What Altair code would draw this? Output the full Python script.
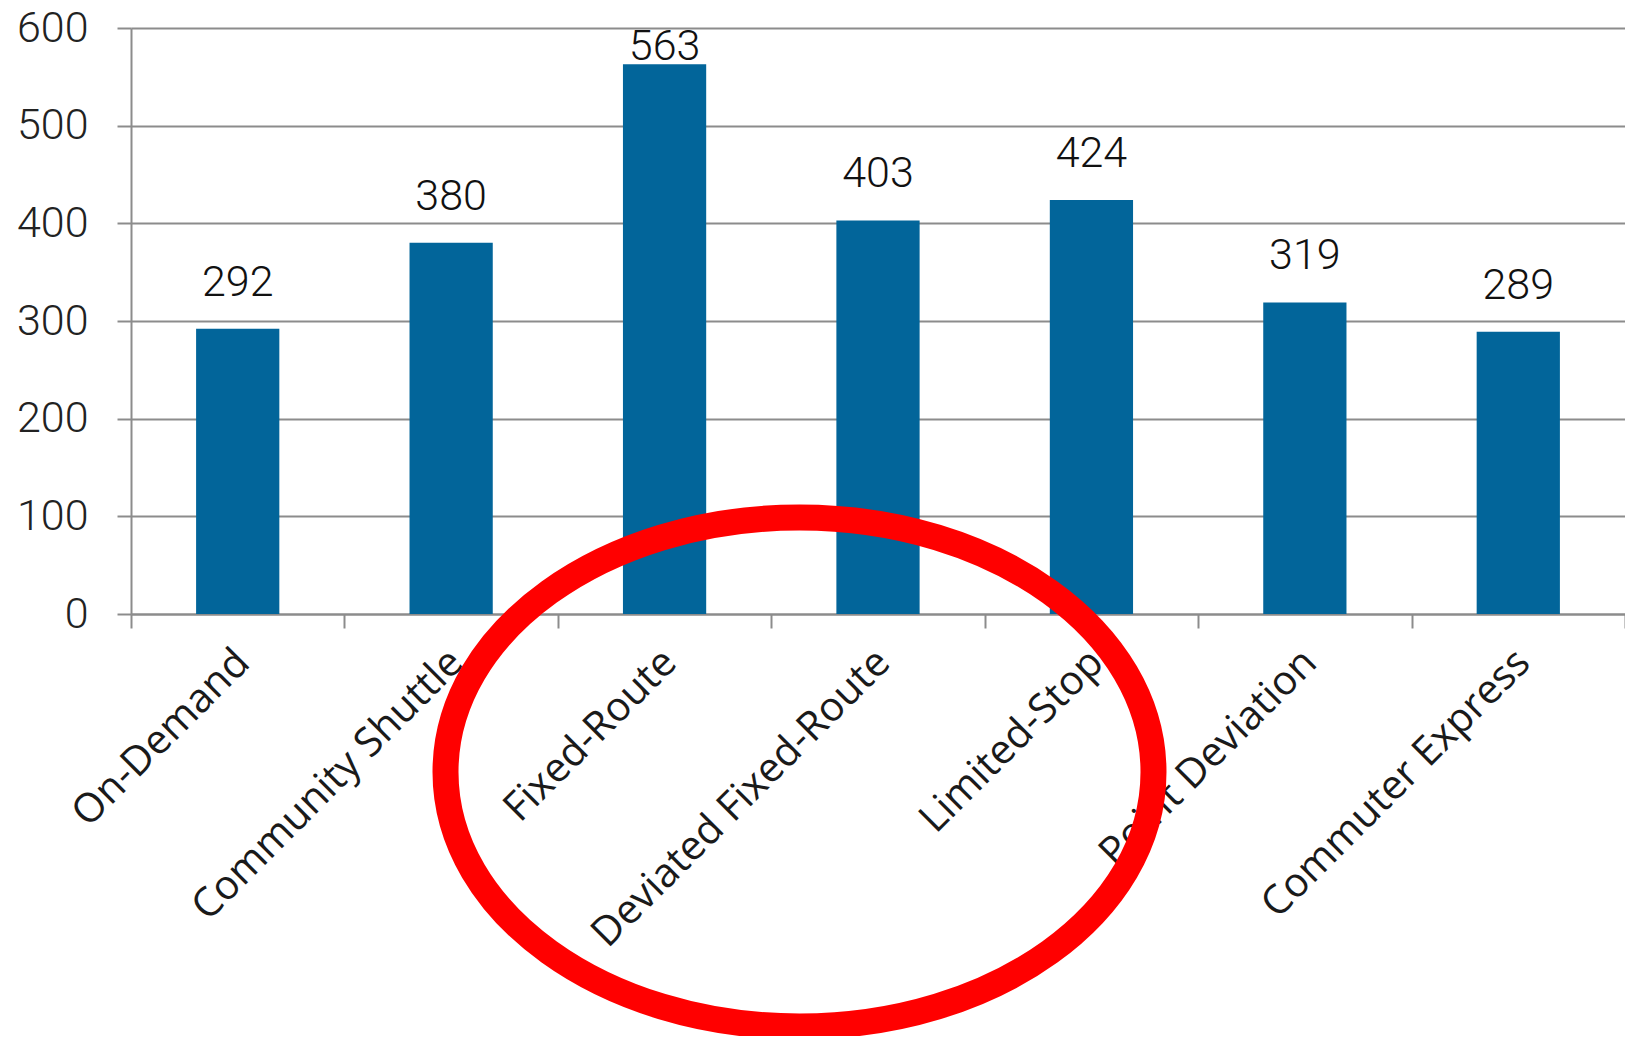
import altair as alt
import pandas as pd

categories = ["On-Demand", "Community Shuttle", "Fixed-Route", "Deviated Fixed-Route",
              "Limited-Stop", "Point Deviation", "Commuter Express"]
values = [292, 380, 563, 403, 424, 319, 289]
y_ticks = [0, 100, 200, 300, 400, 500, 600]

df = pd.DataFrame({"category": categories, "value": values})
note = pd.DataFrame({"note": ["highlight"]})

GRID = "#8c8c8c"
BAR = "#02659a"

x_axis = alt.Axis(
    title=None, labelAngle=-45, labelAlign="right", labelBaseline="middle",
    tickBand="extent", grid=False, domainColor=GRID, domainWidth=2,
    tickColor=GRID, tickWidth=2, tickSize=14, labelPadding=28, labelOffset=5,
    labelFont="Open Sans", labelFontSize=40.5, labelColor="#1a1a1a",
    labelLimit=800, labelOverlap=False,
)
y_axis = alt.Axis(
    title=None, values=y_ticks, grid=True, gridColor=GRID, gridWidth=2,
    domainColor=GRID, domainWidth=2, tickColor=GRID, tickWidth=2, tickSize=14,
    labelPadding=29, labelFont="Roboto", labelFontWeight=300, labelFontSize=43,
    labelColor="#222222", labelFlush=False,
)

x_enc = alt.X("category:N", sort=categories,
              scale=alt.Scale(paddingInner=0, paddingOuter=0), axis=x_axis)
y_scale = alt.Scale(domain=[0, 600], nice=False, zero=True)

bars = alt.Chart(df).mark_bar(width=alt.RelativeBandSize(0.39), color=BAR).encode(
    x=x_enc,
    y=alt.Y("value:Q", scale=y_scale, axis=y_axis),
)

labels = alt.Chart(df).transform_calculate(
    ly="min(datum.value + 34, 567)"
).mark_text(
    font="Roboto", fontWeight=300, fontSize=43, baseline="alphabetic",
    align="center", color="#111111",
).encode(
    x=alt.X("category:N", sort=categories),
    y=alt.Y("ly:Q", scale=y_scale),
    text=alt.Text("value:Q"),
)

ellipse_path = "M -1 0 A 1 0.719 0 1 1 1 0 A 1 0.719 0 1 1 -1 0 Z"
ellipse = alt.Chart(note).mark_point(
    shape=ellipse_path, size=501264, filled=False, fill="transparent",
    stroke="#ff0000", strokeWidth=26, opacity=1,
).encode(
    x=alt.value(668.5),
    y=alt.value(744),
)

chart = alt.layer(bars, labels, ellipse).properties(
    width=1494, height=586,
    autosize=alt.AutoSizeParams(type="none"),
    padding={"left": 131, "top": 28, "right": 0, "bottom": 422},
    background="white",
).configure_view(stroke=None)

chart.save("out.html", embed_options={"renderer": "svg", "actions": False})
